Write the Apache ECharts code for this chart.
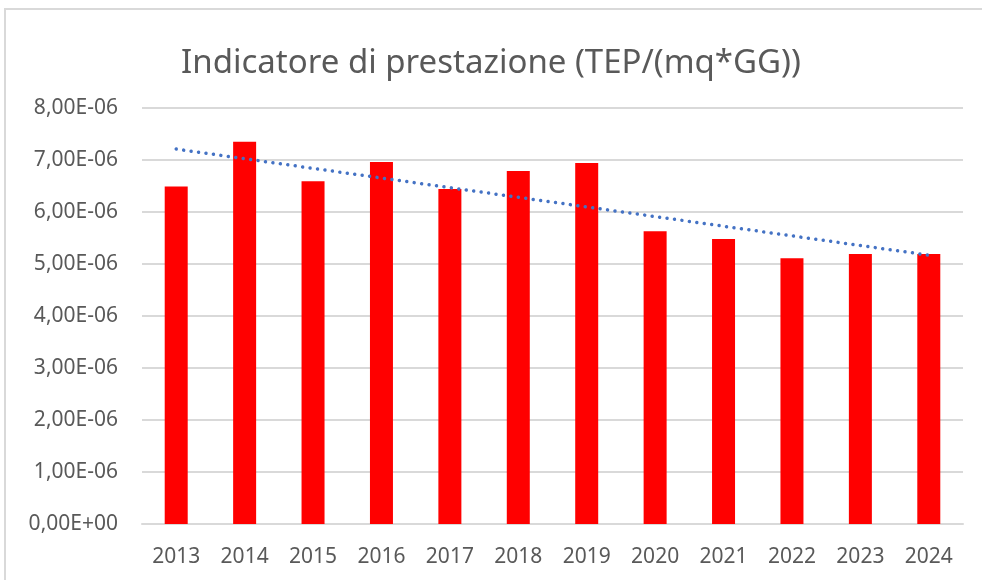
<!DOCTYPE html>
<html>
<head>
<meta charset="UTF-8">
<title>Indicatore di prestazione</title>
<script src="https://cdn.jsdelivr.net/npm/echarts@6/dist/echarts.min.js"></script>
<style>
	html, body { margin: 0; padding: 0; background: #fff; }
	#main { width: 982px; height: 580px; }
</style>
</head>
<body>
<div id="main"></div>
<script>
// dati
var anni = ['2013', '2014', '2015', '2016', '2017', '2018', '2019', '2020', '2021', '2022', '2023', '2024'];
var indicatore = [6.49e-6, 7.35e-6, 6.59e-6, 6.96e-6, 6.44e-6, 6.79e-6, 6.94e-6, 5.63e-6, 5.48e-6, 5.11e-6, 5.19e-6, 5.19e-6];
// linea di tendenza (solo estremi)
var tendenza = [7.21e-6, null, null, null, null, null, null, null, null, null, null, 5.17e-6];
var titolo = 'Indicatore di prestazione (TEP/(mq*GG))';

var grigio = '#595959';
var font = 'Noto Sans';

// 8e-6 -> "8,00E-06"
function formatoSci(v) {
	if (v === 0) return '0,00E+00';
	var s = v.toExponential(2).split('e');
	var exp = parseInt(s[1], 10);
	var segno = exp < 0 ? '-' : '+';
	var e = Math.abs(exp);
	return s[0].replace('.', ',') + 'E' + segno + (e < 10 ? '0' + e : e);
}

var myChart = echarts.init(document.getElementById('main'));
var option = {
	animation: false,
	backgroundColor: '#ffffff',
	title: {
		text: titolo,
		left: 'center',
		top: 42,
		textStyle: { fontFamily: font, fontSize: 33, fontWeight: 'normal', color: grigio }
	},
	graphic: [{
		type: 'rect',
		shape: { x: 5, y: 9, width: 1100, height: 700 },
		style: { fill: 'none', stroke: '#d9d9d9', lineWidth: 2 },
		silent: true
	}],
	grid: { left: 142, right: 19, top: 108, bottom: 56 },
	xAxis: {
		type: 'category',
		data: anni,
		axisLine: { lineStyle: { color: '#d9d9d9', width: 2 } },
		axisTick: { show: false },
		axisLabel: { color: grigio, fontFamily: font, fontSize: 21, margin: 23 }
	},
	yAxis: {
		type: 'value',
		min: 0,
		max: 8e-6,
		interval: 1e-6,
		axisLine: { show: false },
		axisTick: { show: false },
		splitLine: { lineStyle: { color: '#d9d9d9', width: 2 } },
		axisLabel: { color: grigio, fontFamily: font, fontSize: 21, margin: 24, formatter: formatoSci }
	},
	series: [
		{
			name: 'Indicatore',
			type: 'bar',
			data: indicatore,
			barWidth: 23,
			itemStyle: { color: '#ff0000' }
		},
		{
			name: 'Tendenza',
			type: 'line',
			data: tendenza,
			connectNulls: true,
			symbol: 'none',
			lineStyle: { color: '#4472c4', width: 3.5, type: [0.01, 7.5], cap: 'round' },
			z: 3
		}
	]
};
myChart.setOption(option);
</script>
</body>
</html>
